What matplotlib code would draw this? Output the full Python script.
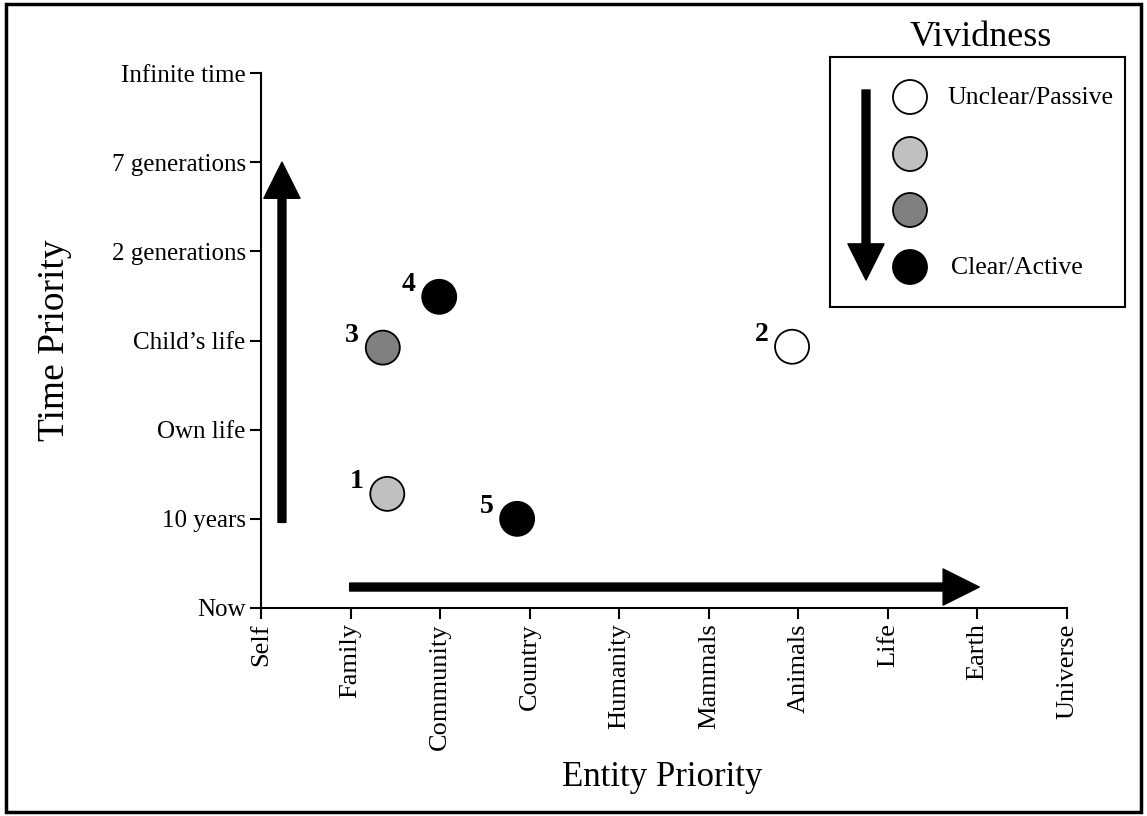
import matplotlib.pyplot as plt
from matplotlib.patches import Rectangle

# data
entity_labels = ["Self", "Family", "Community", "Country", "Humanity",
                 "Mammals", "Animals", "Life", "Earth", "Universe"]
time_labels = ["Now", "10 years", "Own life", "Child\u2019s life",
               "2 generations", "7 generations", "Infinite time"]

point_ids = ["1", "2", "3", "4", "5"]
point_x = [1.41, 5.93, 1.36, 1.99, 2.86]
point_y = [1.28, 2.93, 2.92, 3.49, 1.00]
point_colors = ["#c0c0c0", "#ffffff", "#808080", "#000000", "#000000"]

legend_colors = ["#ffffff", "#c0c0c0", "#808080", "#000000"]
legend_texts = ["Unclear/Passive", "", "", "Clear/Active"]

plt.rcParams["font.family"] = ["Liberation Serif", "DejaVu Serif"]

W, H = 1147, 816
fig = plt.figure(figsize=(W / 100, H / 100), dpi=100)

# main axes, placed so ticks line up with the picture
ax = fig.add_axes([261 / W, 1 - 608 / H, 806 / W, 535 / H])
ax.set_xlim(0, len(entity_labels) - 1)
ax.set_ylim(0, len(time_labels) - 1)
for s in ["top", "right"]:
    ax.spines[s].set_visible(False)
for s in ["left", "bottom"]:
    ax.spines[s].set_linewidth(1.5)
ax.set_xticks(range(len(entity_labels)))
ax.set_xticklabels(entity_labels, rotation=90, fontsize=19)
ax.set_yticks(range(len(time_labels)))
ax.set_yticklabels(time_labels, fontsize=18)
ax.tick_params(length=8, width=1.5, pad=3)
fig.text(662 / W, 1 - 778 / H, "Entity Priority", fontsize=25,
         ha="center", va="center")
fig.text(55 / W, 1 - 340 / H, "Time Priority", fontsize=27, rotation=90,
         ha="center", va="center")

ax.scatter(point_x, point_y, s=600, c=point_colors, edgecolors="black",
           linewidths=1.3, zorder=3, clip_on=False)
for pid, px, py in zip(point_ids, point_x, point_y):
    ax.annotate(pid, (px, py), xytext=(-17, 9), textcoords="offset points",
                ha="right", va="center", fontsize=20, fontweight="bold")

arrow = dict(arrowstyle="simple,head_width=1.0,head_length=1.0,tail_width=0.22",
             mutation_scale=26, color="black", shrinkA=0, shrinkB=0)
ax.annotate("", xy=(0.234, 5.0), xytext=(0.234, 0.96), arrowprops=arrow,
            annotation_clip=False)
ax.annotate("", xy=(8.02, 0.235), xytext=(0.99, 0.235), arrowprops=arrow,
            annotation_clip=False)

# legend box
lg = fig.add_axes([830 / W, 1 - 307 / H, 295 / W, 250 / H])
lg.set_xlim(830, 1125)
lg.set_ylim(307, 57)
lg.set_xticks([])
lg.set_yticks([])
for s in lg.spines.values():
    s.set_linewidth(1.5)
leg_y = [97, 154, 210, 267]
lg.scatter([910] * 4, leg_y, s=600, c=legend_colors, edgecolors="black",
           linewidths=1.3, zorder=3)
lg.text(947, leg_y[0] + 1, legend_texts[0], fontsize=18.5, va="center")
lg.text(951, leg_y[3] + 1, legend_texts[3], fontsize=18.5, va="center")
lg.annotate("", xy=(866, 280), xytext=(866, 90), arrowprops=arrow)
fig.text(981 / W, 1 - 37 / H, "Vividness", fontsize=26, ha="center",
         va="center")

# outer frame
fig.patches.append(Rectangle((6 / W, 4 / H), 1135 / W, 808 / H,
                             transform=fig.transFigure, fill=False,
                             edgecolor="black", linewidth=2.5))

fig.savefig("out.png", dpi=100)
